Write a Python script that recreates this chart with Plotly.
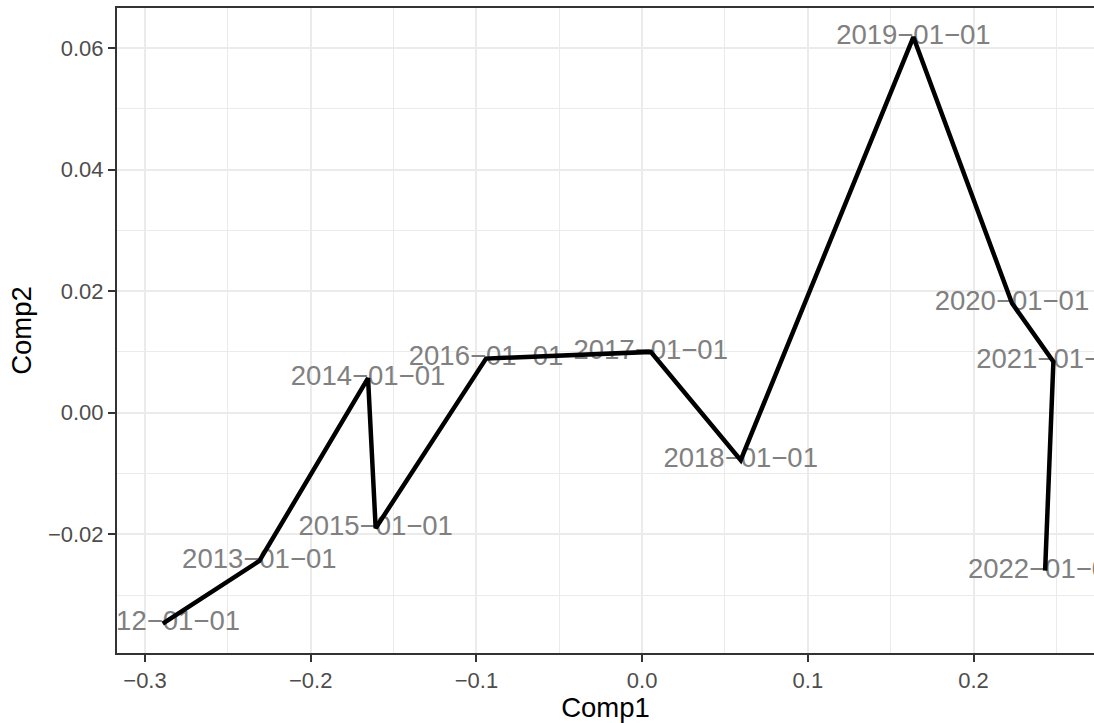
import plotly.graph_objects as go

# Yearly scores on the first two components
dates = ["2012-01-01", "2013-01-01", "2014-01-01", "2015-01-01", "2016-01-01",
         "2017-01-01", "2018-01-01", "2019-01-01", "2020-01-01", "2021-01-01",
         "2022-01-01"]
comp1 = [-0.2893, -0.2310, -0.1654, -0.1608, -0.0942, 0.0052, 0.0595,
         0.1637, 0.2232, 0.2482, 0.2432]
comp2 = [-0.0347, -0.0244, 0.0057, -0.0190, 0.0089, 0.0100, -0.0078,
         0.0618, 0.0180, 0.0084, -0.0260]

x_ticks = [-0.3, -0.2, -0.1, 0.0, 0.1, 0.2]
y_ticks = [-0.02, 0.00, 0.02, 0.04, 0.06]

labels = [d.replace("-", "\u2212") for d in dates]

FONT = "Liberation Sans, Arial, sans-serif"

fig = go.Figure()

# date labels (drawn beneath the path)
fig.add_trace(go.Scatter(
    x=comp1, y=comp2, mode="text", text=labels,
    textposition="middle center",
    textfont=dict(family=FONT, size=27.5, color="#808080"),
    cliponaxis=True, hoverinfo="skip", showlegend=False,
))

# path through the years
fig.add_trace(go.Scatter(
    x=comp1, y=comp2, mode="lines",
    line=dict(color="black", width=4.5),
    showlegend=False,
))

grid_major = "#EBEBEB"
fig.update_layout(
    width=1094, height=723,
    margin=dict(l=117, r=0, t=8, b=70),
    paper_bgcolor="white", plot_bgcolor="white",
    font=dict(family=FONT),
    xaxis=dict(
        range=[-0.3169, 0.2727],
        tickvals=x_ticks, tickformat=".1f",
        ticks="outside", ticklen=7, tickwidth=2, tickcolor="#333333",
        tickfont=dict(size=22, color="#4D4D4D"),
        showgrid=True, gridcolor=grid_major, gridwidth=2,
        minor=dict(dtick=0.1, tick0=-0.25, showgrid=True,
                   gridcolor=grid_major, gridwidth=1),
        showline=True, linecolor="#333333", linewidth=2, mirror=True,
        zeroline=False,
        title=dict(text="Comp1", font=dict(size=27.5, color="black"),
                   standoff=4),
    ),
    yaxis=dict(
        range=[-0.03954, 0.06658],
        tickvals=y_ticks, tickformat=".2f",
        ticks="outside", ticklen=7, tickwidth=2, tickcolor="#333333",
        tickfont=dict(size=22, color="#4D4D4D"),
        showgrid=True, gridcolor=grid_major, gridwidth=2,
        minor=dict(dtick=0.02, tick0=-0.03, showgrid=True,
                   gridcolor=grid_major, gridwidth=1),
        showline=True, linecolor="#333333", linewidth=2, mirror=False,
        zeroline=False,
        title=dict(text="Comp2", font=dict(size=27.5, color="black"),
                   standoff=8),
    ),
)

fig.write_html("out.html")
